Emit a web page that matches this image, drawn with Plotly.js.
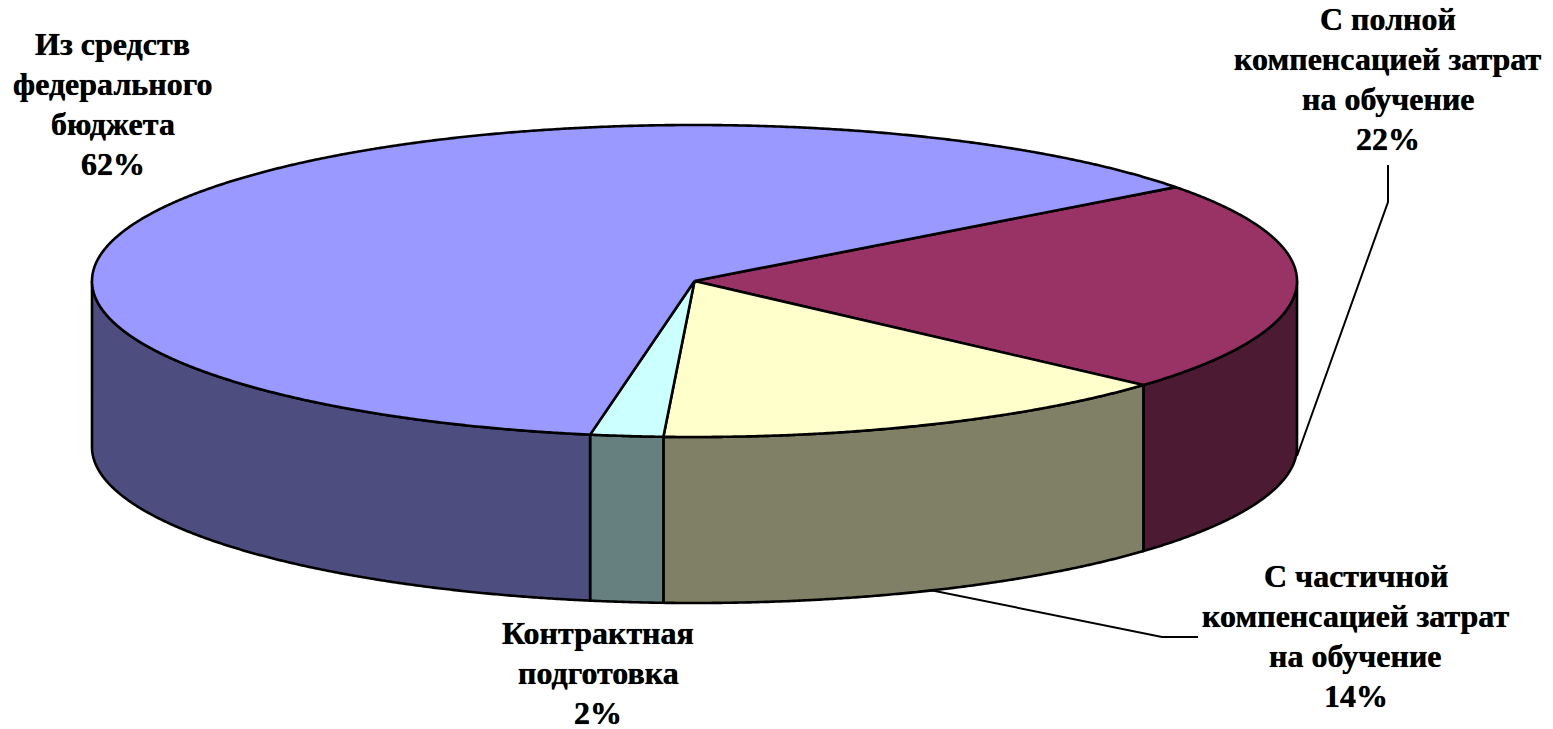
<!DOCTYPE html>
<html><head><meta charset="utf-8">
<script src="https://cdn.plot.ly/plotly-3.0.1.min.js"></script>
<style>html,body{margin:0;padding:0;background:#fff}</style></head>
<body><div id="chart" style="width:1553px;height:729px"></div>
<script>
const categories = [["С полной", "компенсацией затрат", "на обучение"], ["С частичной", "компенсацией затрат", "на обучение"], ["Контрактная", "подготовка"], ["Из средств", "федерального", "бюджета"]];
const shareValues = [21.9, 14.2, 1.95, 61.95];
const topColors = ["#993366", "#FFFFCC", "#CCFFFF", "#9999FF"];
const sideColors = ["#4D1A33", "#808066", "#668080", "#4D4D80"];
const labelCentres = [[1388, 79], [1355.5, 636], [598, 673], [112.5, 104]];
const leaderX = [[1297, 1388, 1388], [930, 1162, 1198]];
const leaderY = [[456, 202, 165], [590, 637, 637]];

const cx = 694.5, cy = 281, rx = 602.5, ry = 156, depth = 166, startDeg = 37;
const lineStep = 40;
const px = d => cx + rx * Math.cos(d * Math.PI / 180);
const py = (d, off) => cy - ry * Math.sin(d * Math.PI / 180) + off;
const total = shareValues.reduce((a, b) => a + b, 0);

function arc(a, b, off) {
  const n = Math.max(2, Math.ceil(Math.abs(b - a) * 4));
  const xs = [], ys = [];
  for (let i = 0; i <= n; i++) { const d = a + (b - a) * i / n; xs.push(px(d)); ys.push(py(d, off)); }
  return [xs, ys];
}
const poly = (x, y, fill) => ({x, y, mode: "lines", fill: "toself", fillcolor: fill,
  line: {color: "#000", width: 2.6, simplify: false}, hoverinfo: "skip", showlegend: false, type: "scatter"});

const tops = [], sides = [];
let a = startDeg;
shareValues.forEach((v, i) => {
  const b = a - v / total * 360;
  const [tx, ty] = arc(a, b, 0);
  tops.push(poly([cx, ...tx, cx], [cy, ...ty, cy], topColors[i]));
  // visible outer wall: the part of the slice on the front half of the ellipse (-180..0 deg)
  const s = Math.min(a, 0), e = Math.max(b, -180);
  if (s > e) {
    const [ux, uy] = arc(s, e, 0), [lx, ly] = arc(e, s, depth);
    sides.push(poly([...ux, ...lx, ux[0]], [...uy, ...ly, uy[0]], sideColors[i]));
  }
  a = b;
});
const leaders = leaderX.map((x, i) => ({x, y: leaderY[i], mode: "lines", type: "scatter",
  line: {color: "#000", width: 2}, hoverinfo: "skip", showlegend: false}));

const annotations = [];
categories.forEach((lines, i) => {
  const all = [...lines, Math.round(shareValues[i]) + "%"];
  all.forEach((t, k) => annotations.push({
    x: labelCentres[i][0], y: labelCentres[i][1] + (k - (all.length - 1) / 2) * lineStep,
    xref: "x", yref: "y", text: "<b>" + t + "</b>", showarrow: false, align: "center",
    xanchor: "center", yanchor: "middle",
    font: {family: "Liberation Serif", size: 32, color: "#000", shadow: "0 0 0.7px #000"}
  }));
});

Plotly.newPlot("chart", [...sides, ...tops, ...leaders], {
  width: 1553, height: 729, margin: {l: 0, r: 0, t: 0, b: 0},
  paper_bgcolor: "#fff", plot_bgcolor: "#fff", showlegend: false,
  xaxis: {range: [0, 1553], visible: false, fixedrange: true},
  yaxis: {range: [729, 0], visible: false, fixedrange: true},
  annotations
}, {displayModeBar: false, staticPlot: true});
</script></body></html>
